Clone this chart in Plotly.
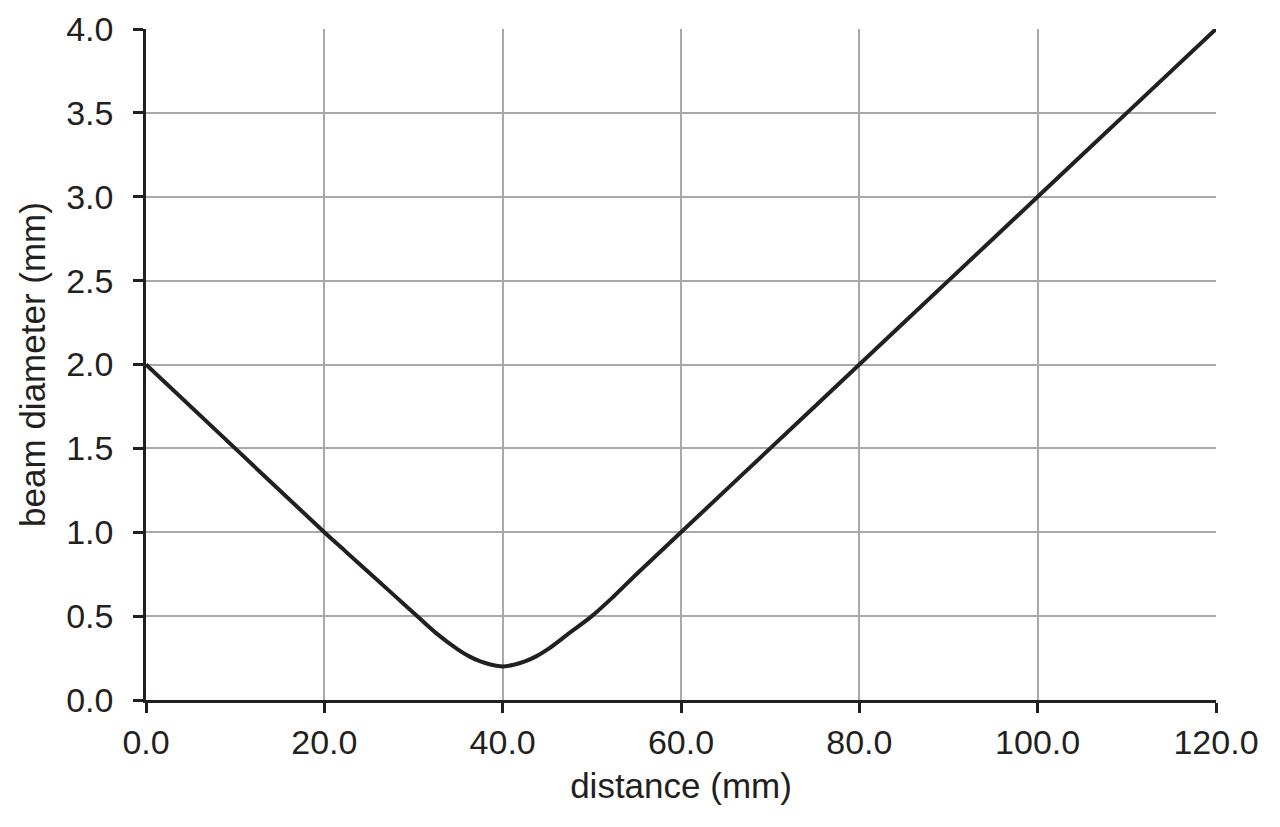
import plotly.graph_objects as go

# beam profile
distance_mm = [0, 10, 20, 22.5, 25, 27.5, 30, 32.5, 35, 36.25, 37.5, 38.75, 40, 41.25, 42.5, 43.75, 45,
               47.5, 50, 52.5, 55, 57.5, 60, 70, 80, 90, 100, 110, 120]
beam_diameter_mm = [2.0, 1.5, 1.0, 0.88, 0.76, 0.64, 0.52, 0.40, 0.30, 0.26, 0.23, 0.21, 0.2, 0.21, 0.23, 0.26, 0.30,
                    0.40, 0.5, 0.62, 0.75, 0.875, 1.0, 1.5, 2.0, 2.5, 3.0, 3.5, 4.0]

x_ticks = [0, 20, 40, 60, 80, 100, 120]
y_ticks = [0, 0.5, 1.0, 1.5, 2.0, 2.5, 3.0, 3.5, 4.0]

fig = go.Figure()

fig.add_trace(go.Scatter(
    x=distance_mm,
    y=beam_diameter_mm,
    mode="lines",
    line=dict(color="#231f20", width=4, shape="spline", smoothing=1.0),
    showlegend=False,
))

tick_font = dict(family="Liberation Sans, Arial, sans-serif", size=34, color="#231f20")
title_font = dict(family="Liberation Sans, Arial, sans-serif", size=35, color="#231f20")

fig.update_layout(
    width=1280,
    height=827,
    paper_bgcolor="white",
    plot_bgcolor="white",
    margin=dict(l=138, r=72, t=21, b=135),
    font=tick_font,
    xaxis=dict(
        range=[0, 120],
        tickvals=x_ticks,
        tickformat=".1f",
        tickfont=tick_font,
        automargin=False,
        showgrid=True,
        gridcolor="#a7a9ac",
        gridwidth=1.5,
        showline=True,
        linecolor="#231f20",
        linewidth=2.5,
        ticks="outside",
        ticklen=10,
        tickwidth=2.5,
        tickcolor="#231f20",
        zeroline=False,
        title=dict(text="distance (mm)", font=title_font, standoff=14),
    ),
    yaxis=dict(
        range=[0, 4.0],
        tickvals=y_ticks,
        tickformat=".1f",
        tickfont=tick_font,
        ticklabelstandoff=13,
        automargin=False,
        showgrid=True,
        gridcolor="#a7a9ac",
        gridwidth=1.5,
        showline=True,
        linecolor="#231f20",
        linewidth=2.5,
        ticks="outside",
        ticklen=10,
        tickwidth=2.5,
        tickcolor="#231f20",
        zeroline=False,
        title=dict(text="beam diameter (mm)", font=title_font, standoff=10),
    ),
)

fig.write_html("out.html")
